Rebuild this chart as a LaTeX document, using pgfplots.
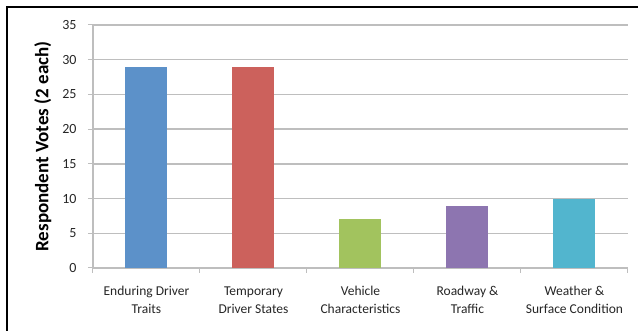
\documentclass[border=0pt]{standalone}
\usepackage{pgfplots}
\pgfplotsset{compat=1.18}
\usepackage{fontspec}
\setmainfont{Carlito}
\definecolor{cblue}{RGB}{92,145,201}
\definecolor{cred}{RGB}{204,97,92}
\definecolor{cgreen}{RGB}{162,195,94}
\definecolor{cpurple}{RGB}{141,117,176}
\definecolor{ccyan}{RGB}{82,181,206}
\definecolor{gridg}{RGB}{190,190,190}
\begin{document}
\begin{tikzpicture}
\useasboundingbox (0,0) rectangle (638pt,331pt);
\draw[black, line width=2pt] (7pt,0) -- (7pt,324pt) -- (638pt,324pt);
\begin{axis}[
  at={(93pt,63pt)}, anchor=south west,
  scale only axis, width=535pt, height=243pt,
  xmin=-0.5, xmax=4.5, ymin=0, ymax=35,
  ytick={0,5,...,35},
  xtick={0,...,4},
  xticklabels={{Enduring Driver\\Traits},{Temporary\\Driver States},{Vehicle\\Characteristics},{Roadway \&\\Traffic},{Weather \&\\Surface Condition}},
  minor xtick={-0.5,0.5,...,4.5},
  major x tick style={draw=none},
  tick align=outside, major tick length=5pt, minor tick length=5pt,
  every tick/.style={gridg, line width=1pt},
  tick style={gridg, line width=1pt},
  axis x line*=bottom, axis y line*=left,
  axis line style={gridg, line width=1.2pt, -},
  ymajorgrids, grid style={gridg, line width=1.5pt},
  xticklabel style={align=center, font=\fontsize{13.5}{18}\selectfont, text=black!85, yshift=-10pt},
  yticklabel style={font=\fontsize{14}{16}\selectfont, text=black!85, xshift=-8pt},
  /pgf/number format/assume math mode=true,
  ylabel={\textbf{Respondent Votes (2 each)}},
  ylabel style={font=\fontsize{19}{21}\selectfont, text=black, yshift=4pt},
  ybar, bar width=42pt, bar shift=0pt,
]
\addplot[fill=cblue, draw=none, forget plot] coordinates {(0,29)};
\addplot[fill=cred, draw=none, forget plot] coordinates {(1,29)};
\addplot[fill=cgreen, draw=none, forget plot] coordinates {(2,7)};
\addplot[fill=cpurple, draw=none, forget plot] coordinates {(3,9)};
\addplot[fill=ccyan, draw=none, forget plot] coordinates {(4,10)};
\end{axis}
\end{tikzpicture}
\end{document}
